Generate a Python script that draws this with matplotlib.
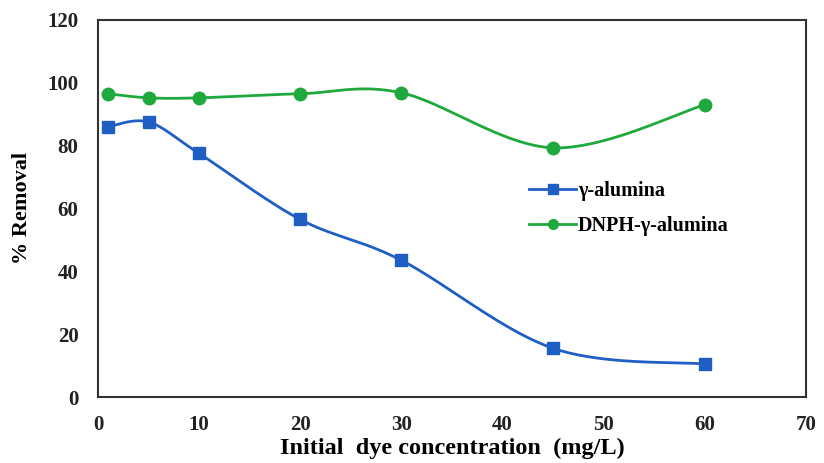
import numpy as np
import matplotlib
matplotlib.use("Agg")
import matplotlib.pyplot as plt

# data
conc = [1, 5, 10, 20, 30, 45, 60]
alumina = [86.0, 87.5, 77.5, 56.5, 43.5, 15.5, 10.5]
dnph_alumina = [96.5, 95.2, 95.2, 96.5, 96.8, 79.3, 93.0]

x_ticks = [0, 10, 20, 30, 40, 50, 60, 70]
y_ticks = [0, 20, 40, 60, 80, 100, 120]


def smooth_curve(x, y, n=40):
    """ Excel-like smoothed line through the points (cubic Bezier, tension 1/6). """
    x = np.asarray(x, float)
    y = np.asarray(y, float)
    px, py = [], []
    t = np.linspace(0, 1, n)
    for i in range(len(x) - 1):
        i0 = max(i - 1, 0)
        i3 = min(i + 2, len(x) - 1)
        c1x = x[i] + (x[i + 1] - x[i0]) / 6
        c1y = y[i] + (y[i + 1] - y[i0]) / 6
        c2x = x[i + 1] - (x[i3] - x[i]) / 6
        c2y = y[i + 1] - (y[i3] - y[i]) / 6
        bx = (1 - t) ** 3 * x[i] + 3 * (1 - t) ** 2 * t * c1x + 3 * (1 - t) * t ** 2 * c2x + t ** 3 * x[i + 1]
        by = (1 - t) ** 3 * y[i] + 3 * (1 - t) ** 2 * t * c1y + 3 * (1 - t) * t ** 2 * c2y + t ** 3 * y[i + 1]
        px.extend(bx)
        py.extend(by)
    return np.array(px), np.array(py)


plt.rcParams['font.family'] = ['Liberation Serif', 'DejaVu Serif']

fig = plt.figure(figsize=(8.24, 4.63), dpi=100)
ax = fig.add_axes([0.119, 0.1425, 0.859, 0.8145])

blue = '#1f5fc4'
green = '#1fa83c'

sx, sy = smooth_curve(conc, alumina)
ax.plot(sx, sy, color=blue, lw=2)
ax.plot(conc, alumina, 's', color=blue, ms=9)
gx, gy = smooth_curve(conc, dnph_alumina)
ax.plot(gx, gy, color=green, lw=2)
ax.plot(conc, dnph_alumina, 'o', color=green, ms=9)

# legend proxies
ax.plot([], [], '-s', color=blue, lw=2, ms=7, label='γ-alumina')
ax.plot([], [], '-o', color=green, lw=2, ms=7, label='DNPH-γ-alumina')
ax.legend(loc='center left', bbox_to_anchor=(0.583, 0.50), frameon=False,
          prop={'weight': 'bold', 'size': 14.5}, handlelength=2.35,
          handletextpad=0.1, labelspacing=0.75)

ax.set_xlim(0, 70)
ax.set_ylim(0, 120)
ax.set_xticks(x_ticks)
ax.set_yticks(y_ticks)
ax.tick_params(length=0, labelsize=15)
ax.tick_params(axis='y', pad=14)
ax.tick_params(axis='x', pad=13)
for lab in ax.get_xticklabels() + ax.get_yticklabels():
    lab.set_fontweight('bold')
    lab.set_color('#222222')
for sp in ax.spines.values():
    sp.set_color('#333333')
    sp.set_linewidth(1.5)

ax.set_xlabel('Initial  dye concentration  (mg/L)', fontsize=17.5, fontweight='bold')
ax.xaxis.set_label_coords(0.5, -0.108)
ax.set_ylabel('% Removal', fontsize=16, fontweight='bold')
ax.yaxis.set_label_coords(-0.093, 0.5)

fig.savefig('out.png', dpi=100)
